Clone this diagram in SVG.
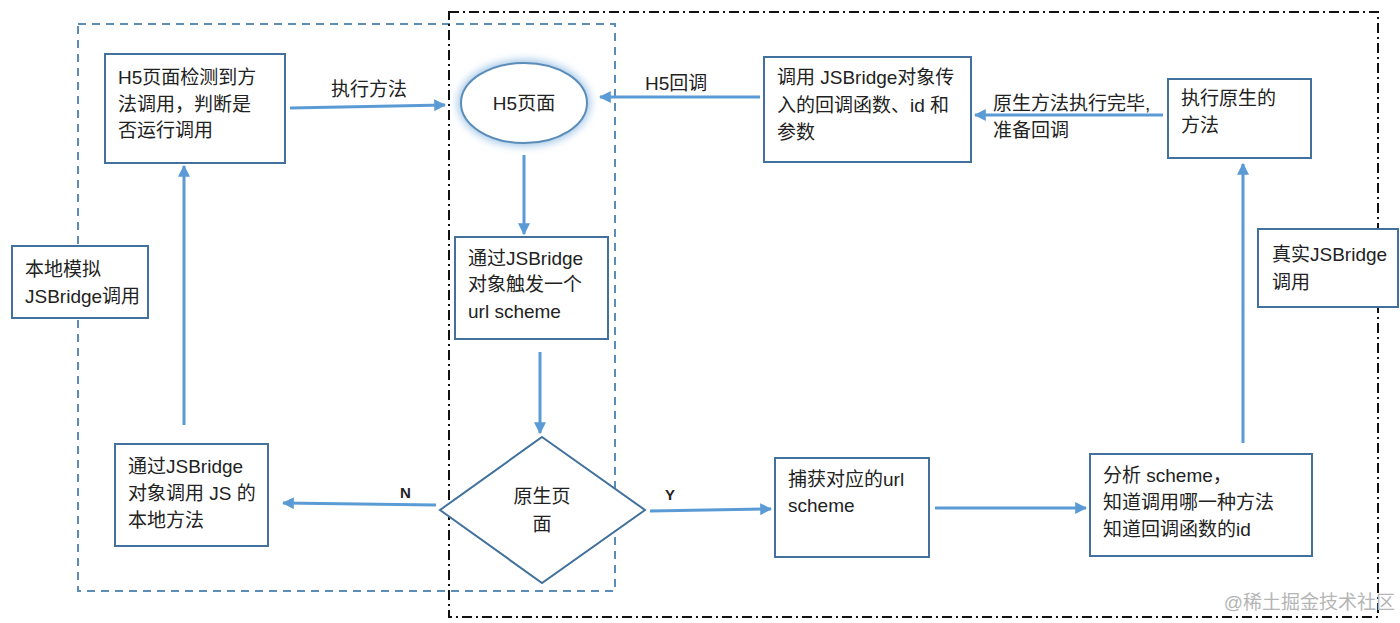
<svg xmlns="http://www.w3.org/2000/svg" width="1400" height="623" viewBox="0 0 1400 623">
<style>
.box{fill:#fff;stroke:#41719C;stroke-width:2}
.t{font-family:"Liberation Sans","Noto Sans CJK SC",sans-serif;font-size:19px;fill:#222}
.b{font-weight:bold;font-size:15px}
.c{stroke:#5B9BD5;stroke-width:3;fill:none;marker-end:url(#ah)}
</style>
<defs>
<marker id="ah" viewBox="0 0 10 10" refX="9" refY="5" markerWidth="4" markerHeight="4" orient="auto"><path d="M0,0 L10,5 L0,10 z" fill="#5B9BD5"/></marker>
<filter id="glow" x="-30%" y="-30%" width="160%" height="160%"><feGaussianBlur stdDeviation="4"/></filter>
</defs>
<rect width="1400" height="623" fill="#fff"/>
<g id="regions">
<rect x="78" y="24" width="537" height="567" fill="none" stroke="#5B8DB8" stroke-width="2" stroke-dasharray="8,6"/>
<rect x="449" y="12" width="929" height="605" fill="none" stroke="#111" stroke-width="2" stroke-dasharray="10,4,2,4"/>
</g>
<g id="connectors">
<line class="c" x1="290" y1="108" x2="445" y2="105"/>
<line class="c" x1="760" y1="97" x2="600" y2="97"/>
<line class="c" x1="1163" y1="115" x2="975" y2="115"/>
<line class="c" x1="524" y1="155" x2="524" y2="234"/>
<line class="c" x1="540" y1="352" x2="540" y2="433"/>
<line class="c" x1="436" y1="505" x2="283" y2="503"/>
<line class="c" x1="184" y1="425" x2="184" y2="166"/>
<line class="c" x1="650" y1="511" x2="771" y2="509"/>
<line class="c" x1="935" y1="508" x2="1086" y2="508"/>
<line class="c" x1="1243" y1="443" x2="1243" y2="164"/>
<text class="t" x="331" y="96">执行方法</text>
<text class="t" x="645" y="90">H5回调</text>
<text class="t" x="993" y="110">原生方法执行完毕,</text>
<text class="t" x="993" y="137">准备回调</text>
<text class="t b" x="400" y="498">N</text>
<text class="t b" x="665" y="500">Y</text>
</g>
<g id="n1"><rect class="box" x="105" y="54" width="180" height="109"/>
<text class="t" x="118" y="84">H5页面检测到方</text><text class="t" x="118" y="111">法调用，判断是</text><text class="t" x="118" y="137">否运行调用</text></g>
<g id="n2"><ellipse cx="524" cy="103" rx="66" ry="43" fill="#9DC3E6" filter="url(#glow)"/>
<ellipse cx="524" cy="103" rx="63" ry="40" fill="#fff" stroke="#5B8DB8" stroke-width="2"/>
<text class="t" x="524" y="110" text-anchor="middle">H5页面</text></g>
<g id="n3"><rect class="box" x="764" y="57" width="207" height="105"/>
<text class="t" x="777" y="84">调用 JSBridge对象传</text><text class="t" x="777" y="112">入的回调函数、id 和</text><text class="t" x="777" y="139">参数</text></g>
<g id="n4"><rect class="box" x="1168" y="79" width="143" height="79"/>
<text class="t" x="1181" y="105">执行原生的</text><text class="t" x="1181" y="132">方法</text></g>
<g id="n5"><rect class="box" x="1258" y="229" width="140" height="78"/>
<text class="t" x="1272" y="261">真实JSBridge</text><text class="t" x="1272" y="289">调用</text></g>
<g id="n6"><rect class="box" x="12" y="246" width="136" height="72"/>
<text class="t" x="25" y="276">本地模拟</text><text class="t" x="25" y="303">JSBridge调用</text></g>
<g id="n7"><rect class="box" x="455" y="237" width="153" height="102"/>
<text class="t" x="468" y="265">通过JSBridge</text><text class="t" x="468" y="291">对象触发一个</text><text class="t" x="468" y="318">url scheme</text></g>
<g id="n8"><polygon points="542,437 645,510 542,583 440,510" fill="#fff" stroke="#41719C" stroke-width="2"/>
<text class="t" x="542" y="503" text-anchor="middle">原生页</text><text class="t" x="542" y="531" text-anchor="middle">面</text></g>
<g id="n9"><rect class="box" x="115" y="444" width="153" height="102"/>
<text class="t" x="128" y="473">通过JSBridge</text><text class="t" x="128" y="500">对象调用 JS 的</text><text class="t" x="128" y="527">本地方法</text></g>
<g id="n10"><rect class="box" x="775" y="458" width="154" height="99"/>
<text class="t" x="788" y="486">捕获对应的url</text><text class="t" x="788" y="512">scheme</text></g>
<g id="n11"><rect class="box" x="1090" y="454" width="222" height="102"/>
<text class="t" x="1103" y="482">分析 scheme，</text><text class="t" x="1103" y="509">知道调用哪一种方法</text><text class="t" x="1103" y="536">知道回调函数的id</text></g>
<text class="t" x="1395" y="609" text-anchor="end" style="fill:#b5b5b5;font-size:19px">@稀土掘金技术社区</text>
</svg>
